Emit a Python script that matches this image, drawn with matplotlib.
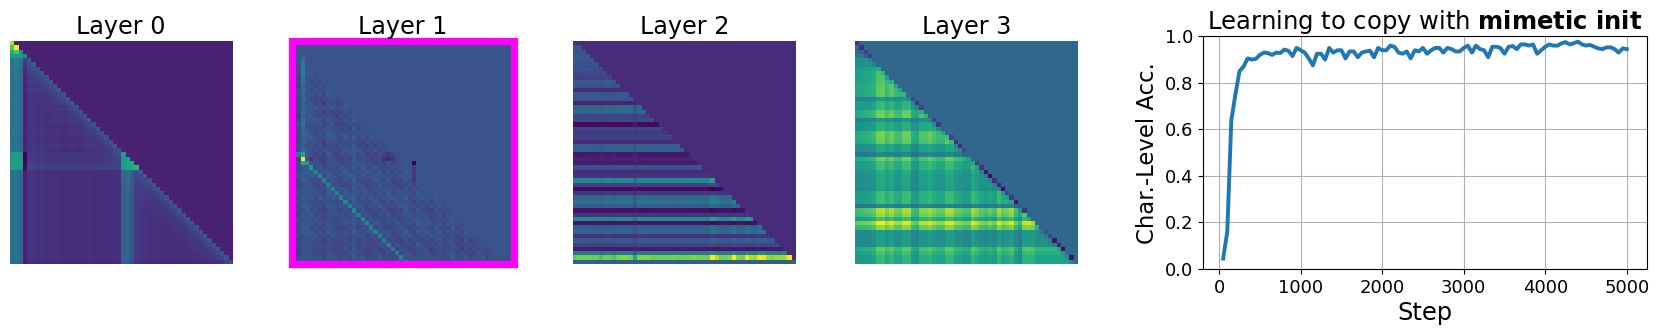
import numpy as np
import matplotlib
matplotlib.use("Agg")
import matplotlib.pyplot as plt

W, H = 1660, 335
N = 52

# ---------- Layer 0 ----------
l0_bg = 0.09
l0_row = [0,0,0,0,.0,.01,.0,.01,.0,.01,.0,.01,.0,.0,.01,.0,.0,.0,.01,.0,.0,.01,.0,.0,.01,.0,
          .02,.02,.03,.05,.0,.0,.0,.0,.0,.0,.0,.0,.0,.0,.0,.0,.0,.0,.0,.0,.0,.0,.0,.0,.0,-.02]
l0_col = [.25,.27,.22,-.02,.03,.03,.02,.03,.02,.02,.02,.02,.01,.01,.02,.01,.01,.01,.02,.01,.01,.01,.01,.01,.02,.01,
          .19,.21,.14,.05,.04,.03,.02,.02,.02,.01,.01,.01,.01,.01,.01,.01,.01,.01,.01,.01,.01,.01,.01,.01,.01,.01]
l0_off = [.12,.08,.05,.03,.02,.02,.01,.01] + [0]*44
l0_cells = [(0,0,.9),(1,0,.72),(1,1,1.),(2,0,.62),(2,1,.72),(2,2,.5),(3,0,.55),(3,1,.55),(3,2,.55),(3,3,.45),
            (26,0,.52),(26,1,.55),(26,2,.52),(27,0,.55),(27,1,.56),(27,2,.55),(28,0,.56),(28,1,.56),(28,2,.55),
            (29,0,.56),(29,1,.56),(29,2,.55),(26,3,.0),(27,3,.0),(28,3,.02),(29,3,.02),
            (26,26,.55),(27,26,.52),(27,27,.58),(28,26,.55),(28,27,.6),(28,28,.6),(29,26,.55),(29,27,.58),(29,28,.6),(29,29,.65)]

# ---------- Layer 1 ----------
l1_bg = 0.26
l1_row = [0,0,0,0,.01,.01,.0,.0,-.01,-.01,-.01,.0,.01,-.02,-.02,.01,-.02,-.02,.0,-.02,-.01,.0,.01,-.02,-.02,.0,
          -.02,-.03,-.01,.0,.0,.01,-.01,-.02,.0,.0,.01,-.01,.0,-.02,-.01,-.01,.0,-.02,.0,-.01,-.03,-.02,-.03,-.03,-.01,.0]
l1_col = [0,-.02,.02,.02,.01,-.01,-.01,-.03,.01,.0,-.02,-.02,.0,-.01,.03,-.01,.0,-.02,-.01,-.01,.0,-.02,.0,-.03,-.01,-.01,
          .01,-.01,-.02,.01,.0,.0,-.02,.0,.01,-.02,.0,.02,-.01,-.02,.01,-.01,.0,.01,.01,-.02,.0,.0,-.01,0,0,0]
l1_off = [0,0,0,0,.01,-.02,.01,-.03,-.01,-.03,.02,-.01,.0,.03,-.01,.0,-.03,-.01,.03,-.01,.0,-.03,.0,.02,-.01,.2,
          .0,.01,-.02,.0,.02,-.02,-.01,-.02,.01,-.01,.02,-.02,.0,-.02,.02,.0,.01,-.02,.01,-.01,.0,.01,-.02,0,0,0]
l1_cells = [(26,2,.6),(27,2,1.),(28,2,.6),(28,3,.55),(29,4,.52),(28,28,.0),(29,28,.17),(30,28,.17),(31,28,.17),(32,28,.17),
            (27,4,.15),(27,21,.13),(27,22,.13),(26,22,.15),(27,23,.15),
            (3,2,.3),(4,2,.38),(5,2,.42),(6,2,.42),(7,2,.42),(8,2,.4),(9,2,.38),(10,2,.36),(11,2,.35),(12,2,.36),(13,2,.34),
            (14,2,.33),(15,2,.35),(16,2,.35),(17,2,.35),(18,2,.36),(19,2,.38),(20,2,.36),(21,2,.34),(22,2,.33),(23,2,.3),(24,2,.3),(25,2,.34)]

# ---------- Layer 2 ----------
l2_bg = 0.125
l2_row = [.125,.25,.25,.27,.27,.25,.25,.22,.2,.28,.25,.125,.27,.27,.1,.33,.33,.2,.22,.03,.2,.17,.2,.13,.3,.3,
          .07,.1,.07,.25,.12,.15,.47,.2,.03,.15,.33,.37,.3,.05,.15,.47,.05,.3,.32,.15,.27,.2,.07,.38,.78,.3]
l2_col = [.95,1,1,1,.98,1,.9,1,1,.92,1,1.05,1.05,1,.7,1.03,1.05,1.05,1,1,1,1,1,1.03,1,1,1,1.03,1.05,1,1,1,
          1.33,1.18,1,1,1.05,1.33,1.05,1,1.3,1.15,1.1,1.3,1.3,1.1,1.05,1.1,1.1,1.15,1.33,1.3]

# ---------- Layer 3 ----------
l3_bg = 0.33
l3_row = [.33,.33,.33,.42,.53,.53,.6,.62,.62,.63,.65,.65,.65,.48,.58,.58,.67,.68,.47,.56,.56,.68,.68,.66,.53,.53,
          .42,.68,.6,.6,.55,.53,.53,.53,.51,.6,.6,.6,.42,.76,.73,.6,.84,.72,.49,.49,.5,.5,.66,.62,.58,.58]
l3_col = [-.05,-.04,-.03,-.02,.0,.09,.1,.03,.08,.02,.01,.08,.08,-.04,-.06,.04,.04,.07,.03,.0,.0,.08,.08,.01,.0,-.03,
          -.03,.08,.04,-.01,-.03,.0,-.03,.08,.01,.03,.07,-.04,-.1,.06,.07,.06,.0,0,0,0,0,0,0,0,0,0]
l3_diag = [.13,.14,.2,.18,.33,.33,.33,.33,.33,.33,.33,.33,.33,.2,.15,.2,.33,.33,.2,.15,.33,.33,.2,.14,.13,.2,
           .33,.33,.2,.15,.06,.03,.12,.1,.03,.2,.15,.06,.3,.15,.33,.33,.33,.3,.25,.2,.05,.1,.03,.33,.05,.33]

# ---------- Training curve ----------
acc = [.045,.16,.64,.75,.85,.87,.905,.90,.903,.92,.93,.928,.92,.93,.928,.943,.938,.915,.95,.94,
       .93,.905,.875,.925,.925,.90,.95,.93,.94,.94,.905,.935,.935,.91,.93,.935,.938,.91,.95,.94,
       .94,.96,.955,.93,.925,.935,.905,.94,.935,.95,.925,.94,.95,.95,.93,.95,.945,.935,.935,.95,
       .96,.93,.96,.945,.94,.91,.955,.955,.95,.925,.955,.958,.945,.965,.965,.96,.965,.925,.94,.955,
       .965,.96,.96,.97,.975,.965,.97,.977,.965,.96,.963,.955,.948,.945,.952,.953,.945,.93,.948,.945]
steps = [50 * (i + 1) for i in range(len(acc))]
xticks = [0, 1000, 2000, 3000, 4000, 5000]
yticks = [0.0, 0.2, 0.4, 0.6, 0.8, 1.0]
titles = ["Layer 0", "Layer 1", "Layer 2", "Layer 3"]


def build(bg, row, col, off=None):
    m = np.full((N, N), float(bg))
    for r in range(N):
        for c in range(r + 1):
            d = r - c
            m[r, c] = bg + row[r] + col[c] + (off[d] if off else 0)
    return m


m0 = build(l0_bg + .03, l0_row, l0_col, l0_off)
for r in range(N):
    for c in range(r + 1, N):
        m0[r, c] = l0_bg
for r, c, v in l0_cells:
    m0[r, c] = v

m1 = build(l1_bg, l1_row, l1_col, l1_off)
for r in range(N):
    for c in range(r + 1):
        if r - c < 3:
            m1[r, c] = l1_bg
for r, c, v in l1_cells:
    m1[r, c] = v

m2 = np.full((N, N), l2_bg)
for r in range(N):
    for c in range(r + 1):
        m2[r, c] = l2_bg + (l2_row[r] - l2_bg) * l2_col[c]
m2[51, :] = l2_row[51]

m3 = np.full((N, N), l3_bg)
for r in range(N):
    for c in range(r):
        m3[r, c] = l3_row[r] + l3_col[c] * (l3_row[r] - .2) / .4 - (.08 if r - c == 1 else 0)
    m3[r, r] = l3_diag[r]
m3[:3, :] = l3_bg
m3[0, 0], m3[1, 1], m3[2, 2] = l3_diag[:3]
m3[51, 51] = l3_bg

fig = plt.figure(figsize=(W / 100, H / 100), dpi=100)


def px_axes(x0, x1, top, bottom):
    return fig.add_axes([x0 / W, 1 - bottom / H, (x1 - x0) / W, (bottom - top) / H])


boxes = [(9.5, 231.7), (291.5, 513.5), (573.3, 795.6), (855.3, 1077.5)]
for (x0, x1), m, t, i in zip(boxes, [m0, m1, m2, m3], titles, range(4)):
    ax = px_axes(x0, x1, 41.3, 263.7)
    ax.imshow(m, cmap="viridis", vmin=0, vmax=1, aspect="auto")
    ax.set_xticks([])
    ax.set_yticks([])
    ax.set_title(t, fontsize=17.2, pad=5.5)
    for s in ax.spines.values():
        if i == 1:
            s.set_color("#ff00ff")
            s.set_linewidth(5.1)
        else:
            s.set_visible(False)

ax = px_axes(1203, 1647, 36.3, 269)
ax.plot(steps, acc, lw=2.8, color="#1f77b4")
ax.set_ylim(0, 1)
ax.set_xticks(xticks)
ax.set_yticks(yticks)
ax.tick_params(axis="both", labelsize=13)
ax.grid(True)
ax.set_xlabel("Step", fontsize=17.4, labelpad=3)
ax.set_ylabel("Char.-Level Acc.", fontsize=16.4, labelpad=4)
ax.set_title(r"Learning to copy with $\bf{mimetic\ init}$", fontsize=17.5, pad=4.5)

fig.savefig("out.png", dpi=100)
